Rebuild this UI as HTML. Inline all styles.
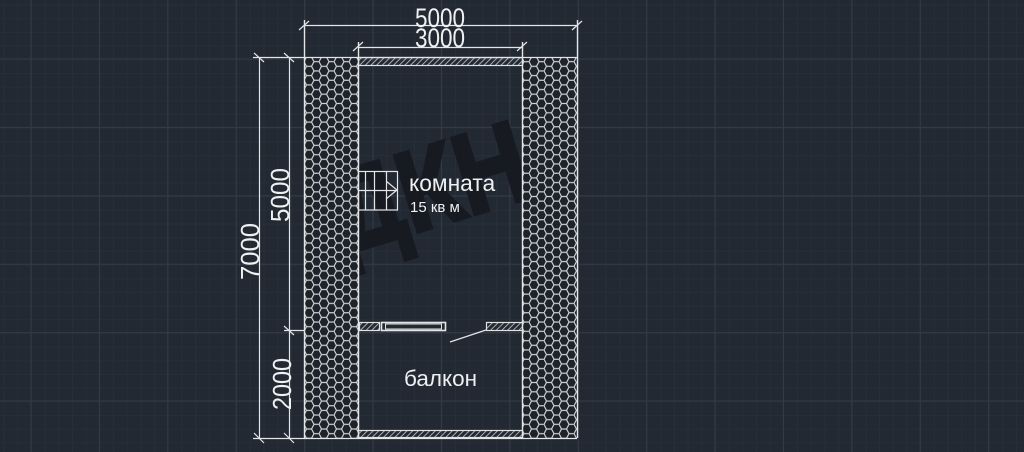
<!DOCTYPE html>
<html><head><meta charset="utf-8">
<style>html,body{margin:0;padding:0;background:#222932}svg{display:block}text{font-family:"Liberation Sans",sans-serif;fill:#eef0f1}</style>
</head><body>
<svg width="1024" height="452" viewBox="0 0 1024 452" xmlns="http://www.w3.org/2000/svg">
<defs>
<pattern id="minor" x="3.6" y="4.6" width="13.68" height="13.68" patternUnits="userSpaceOnUse">
<path d="M0.5 0V13.68M0 0.5H13.68" stroke="#272e38" stroke-width="1" fill="none"/>
</pattern>
<pattern id="major" x="30.5" y="58.5" width="68.4" height="68.4" patternUnits="userSpaceOnUse">
<path d="M0.5 0V68.4M0 0.5H68.4" stroke="#333b46" stroke-width="1" fill="none"/>
</pattern>
<pattern id="hex" x="304" y="57" width="15" height="9.3" patternUnits="userSpaceOnUse">
<rect width="15" height="9.3" fill="#1e2229"/>
<path d="M0 4.65L2.5 0H7.5L10 4.65L7.5 9.3H2.5ZM10 4.65H15" stroke="#cfd2d4" stroke-width="1.2" fill="none"/>
</pattern>
<pattern id="hatch" width="4" height="4" patternUnits="userSpaceOnUse" patternTransform="rotate(45)">
<path d="M0 0V4" stroke="#c9ccce" stroke-width="1.6"/>
</pattern>
</defs>
<rect width="1024" height="452" fill="#222932"/>
<rect width="1024" height="452" fill="url(#minor)"/>
<rect width="1024" height="452" fill="url(#major)"/>

<text transform="translate(345 254) rotate(-17)" font-size="115" font-weight="700" style="fill:#171b21;stroke:#171b21;stroke-width:4" textLength="200" lengthAdjust="spacingAndGlyphs">ДКН</text>

<rect x="304" y="57" width="54" height="381" fill="url(#hex)"/>
<rect x="522" y="57" width="55" height="381" fill="url(#hex)"/>

<g fill="url(#hatch)" stroke="#dfe1e3" stroke-width="1.2">
<rect x="358.5" y="57.5" width="164" height="8"/>
<rect x="358.5" y="430.5" width="164" height="7"/>
<rect x="359.5" y="322.5" width="20" height="8"/>
<rect x="486.5" y="322.5" width="36" height="8"/>
</g>

<g stroke="#e3e5e7" fill="none" stroke-width="1.2">
<path d="M304.5 20V438M358.5 42V438M522.5 42V438M577.5 20V438" stroke-width="1.4"/>
<path d="M253 57.5H577M253 438.5H577M284 330.5H304"/>
<path d="M304 25.5H577M358 47.5H522"/>
<path d="M259.5 57V438M289.5 57V438"/>
<path d="M299 30L309 21M572 30L582 21M353 51L363 42M517 51L527 42"/>
<path d="M254 53L264 62M284 53L294 62M284 326L294 335M254 433L264 443M284 433L294 443"/>
<rect x="381.5" y="322.5" width="64" height="8" stroke-width="1.6"/>
<rect x="385.5" y="324" width="56" height="5" stroke-width="1"/>
<path d="M486 330L450 342"/>
<rect x="358.5" y="171.5" width="39" height="38.5"/>
<path d="M358 190.5H397M365.5 171V210M374.5 171V210M386.5 171V210M386 181L397 190L386 199"/>
</g>

<text transform="translate(440 27) scale(1 1.18)" font-size="22.5" text-anchor="middle">5000</text>
<text transform="translate(440 47) scale(1 1.18)" font-size="22.5" text-anchor="middle">3000</text>
<text transform="translate(259 251.5) rotate(-90)" font-size="26" text-anchor="middle" textLength="57" lengthAdjust="spacingAndGlyphs">7000</text>
<text transform="translate(289 195) rotate(-90)" font-size="26" text-anchor="middle" textLength="54" lengthAdjust="spacingAndGlyphs">5000</text>
<text transform="translate(291 384) rotate(-90)" font-size="26" text-anchor="middle" textLength="52" lengthAdjust="spacingAndGlyphs">2000</text>
<text x="409" y="191" font-size="22.8">комната</text>
<text x="410" y="212" font-size="15">15 кв м</text>
<text x="404" y="386" font-size="22.5">балкон</text>
</svg>
</body></html>
